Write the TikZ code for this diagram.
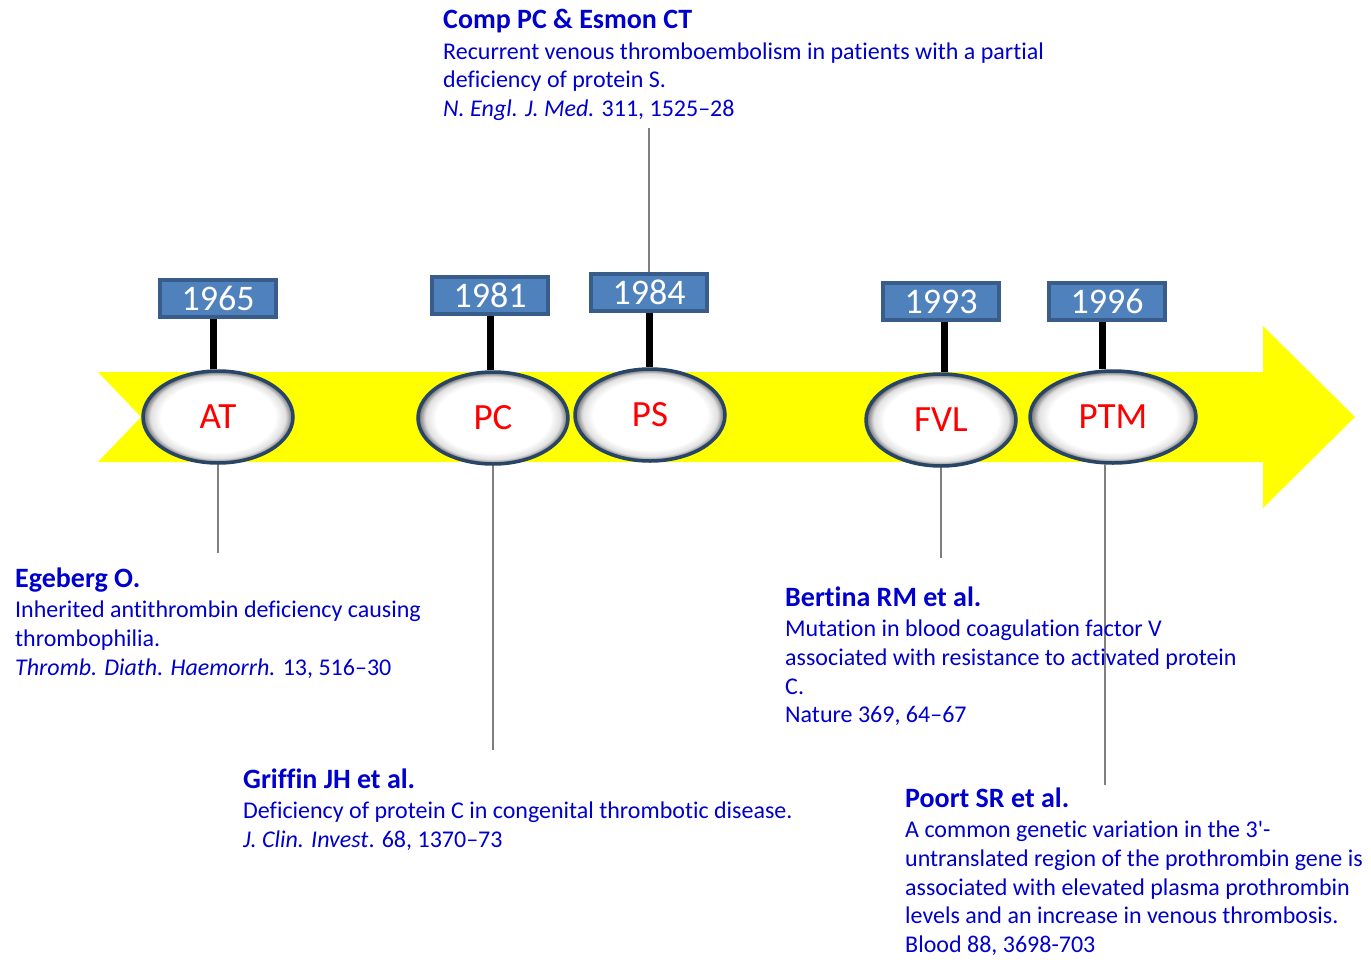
\documentclass[tikz,border=0pt]{standalone}
\usepackage{fontspec}
\setmainfont{Carlito}[Ligatures={TeX,NoCommon}]
\usetikzlibrary{shapes.geometric}
\definecolor{yel}{RGB}{255,255,0}
\definecolor{boxfill}{RGB}{79,129,189}
\definecolor{boxedge}{RGB}{56,93,138}
\definecolor{rimblue}{RGB}{40,68,102}
\definecolor{reftext}{RGB}{0,0,204}
\definecolor{conn}{RGB}{127,127,127}
\pgfdeclareradialshading{ballrim}{\pgfpoint{0bp}{0bp}}{color(0bp)=(white); color(19bp)=(white); color(22.5bp)=(black!12); color(25bp)=(black!60); color(50bp)=(black!60)}
\newcommand\hd[1]{{\fontsize{28}{29}\selectfont\bfseries #1}}
\tikzset{
  yearbox/.style={draw=boxedge, line width=3.5pt, fill=boxfill, text=white, minimum width=116pt, minimum height=37pt, inner sep=0pt, font=\fontsize{36}{36}\selectfont},
  ev/.style={ellipse, draw=rimblue, line width=3.5pt, shading=ballrim, text=red, inner sep=0pt, minimum width=150pt, minimum height=92pt, font=\fontsize{37}{37}\selectfont},
  stem/.style={line width=7pt, black},
  conline/.style={line width=1.4pt, conn},
  ref/.style={anchor=north west, inner sep=0pt, align=left, text=reftext, font=\fontsize{24}{28.7}\selectfont}
}
\begin{document}
\begin{tikzpicture}[x=1pt, y=-1pt]
\useasboundingbox (0,0) rectangle (1371,959);
% arrow
\fill[yel] (98,372) -- (1263,372) -- (1263,326) -- (1355,417) -- (1263,508) -- (1263,462) -- (98,462) -- (141,417) -- cycle;
% year boxes
\node[yearbox] (y1965) at (218,298.5) {1965};
\node[yearbox] (y1981) at (490,295.5) {1981};
\node[yearbox] (y1984) at (649,292.5) {1984};
\node[yearbox] (y1993) at (941,301.5) {1993};
\node[yearbox] (y1996) at (1107,301.5) {1996};
% ellipses
\node[ev] (AT) at (218,417) {AT};
\node[ev] (PC) at (493,418) {PC};
\node[ev] (PS) at (650,415) {PS};
\node[ev] (FVL) at (941,420) {FVL};
\node[ev, minimum width=166pt] (PTM) at (1113,417) {PTM};
% stems
\draw[stem] ([xshift=-5pt]y1965.south) -- ([xshift=-5pt]y1965.south |- AT.north);
\draw[stem] (y1981.south) -- (y1981.south |- PC.north);
\draw[stem] (y1984.south) -- (y1984.south |- PS.north);
\draw[stem] ([xshift=3pt]y1993.south) -- ([xshift=3pt]y1993.south |- FVL.north);
\draw[stem] ([xshift=-5pt]y1996.south) -- ([xshift=-5pt]y1996.south |- PTM.north);
% connector ends
\coordinate (cAT) at (218,553);
\coordinate (cPC) at (493,750);
\coordinate (cPS) at (649,128);
\coordinate (cFVL) at (941,558);
\coordinate (cPTM) at (1105,785);
\draw[conline] (AT.south) -- (cAT);
\draw[conline] (PC.south) -- (cPC);
\draw[conline] (y1984.north) -- (cPS);
\draw[conline] (FVL.south) -- (cFVL);
\draw[conline] (PTM.south -| cPTM) -- (cPTM);
% references
\node[ref] (tComp) at (443,9) {\hd{Comp PC \& Esmon CT}\\[1.8pt]
Recurrent venous thromboembolism in patients with a partial\\
deficiency of protein S.\\
\textit{N. Engl. J. Med.} 311, 1525–28};
\node[ref] (tEge) at (15,567.5) {\hd{Egeberg O.}\\[1.8pt]
Inherited antithrombin deficiency causing\\
thrombophilia.\\
\textit{Thromb. Diath. Haemorrh.} 13, 516–30};
\node[ref] (tGri) at (243,768.5) {\hd{Griffin JH et al.}\\[1.8pt]
Deficiency of protein C in congenital thrombotic disease.\\
\textit{J. Clin. Invest}. 68, 1370–73};
\node[ref] (tBer) at (785,586.5) {\hd{Bertina RM et al.}\\[1.8pt]
Mutation in blood coagulation factor V\\
associated with resistance to activated protein\\
C.\\
Nature 369, 64–67};
\node[ref] (tPoo) at (905,787.5) {\hd{Poort SR et al.}\\[1.8pt]
A common genetic variation in the 3\textquotesingle-\\
untranslated region of the prothrombin gene is\\
associated with elevated plasma prothrombin\\
levels and an increase in venous thrombosis.\\
Blood 88, 3698-703};
\end{tikzpicture}
\end{document}
